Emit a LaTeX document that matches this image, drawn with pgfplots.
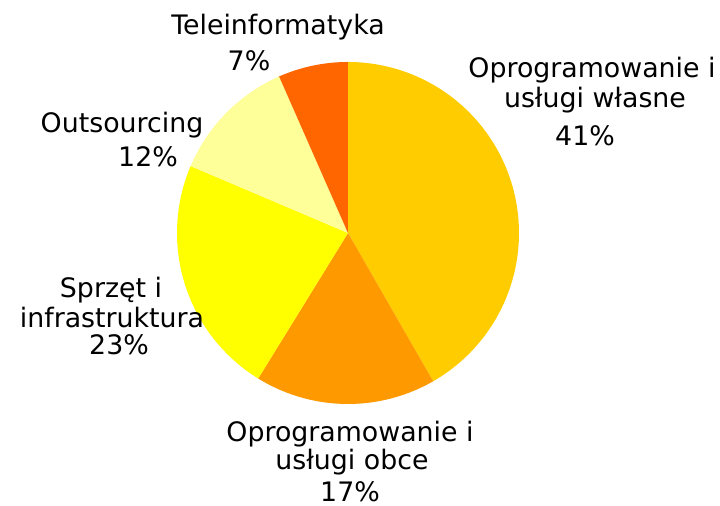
\documentclass[border=0pt]{standalone}
\usepackage{fontspec}
\setmainfont{DejaVu Sans}
\usepackage{pgfplots}
\pgfplotsset{compat=1.18}
\definecolor{cOwn}{HTML}{FFCC00}
\definecolor{cExt}{HTML}{FF9900}
\definecolor{cHw}{HTML}{FFFF00}
\definecolor{cOut}{HTML}{FFFF99}
\definecolor{cTel}{HTML}{FF6600}
% slice shares (percent), clockwise from 12 o'clock
\def\pA{41.7}\def\pB{17.1}\def\pC{22.6}\def\pD{12.0}\def\pE{6.6}
\tikzset{lbl/.style={anchor=base, inner sep=0pt, font=\fontsize{13.4}{15}\selectfont, text=black}}
\begin{document}
\begin{tikzpicture}
\begin{axis}[width=360pt, height=253pt, scale only axis, hide axis, clip=false,
  xmin=0, xmax=720, ymin=0, ymax=506]
\path (axis cs:0,0) rectangle (axis cs:720,506);
\pgfmathsetmacro{\aA}{90}
\pgfmathsetmacro{\aB}{\aA-3.6*\pA}
\pgfmathsetmacro{\aC}{\aB-3.6*\pB}
\pgfmathsetmacro{\aD}{\aC-3.6*\pC}
\pgfmathsetmacro{\aE}{\aD-3.6*\pD}
\pgfmathsetmacro{\aF}{\aE-3.6*\pE}
\addplot[fill=cOwn, draw=none, domain=\aA:\aB, samples=90, variable=\t] ({348+171*cos(\t)},{273+171*sin(\t)}) -- (axis cs:348,273) -- cycle;
\addplot[fill=cExt, draw=none, domain=\aB:\aC, samples=60, variable=\t] ({348+171*cos(\t)},{273+171*sin(\t)}) -- (axis cs:348,273) -- cycle;
\addplot[fill=cHw, draw=none, domain=\aC:\aD, samples=60, variable=\t] ({348+171*cos(\t)},{273+171*sin(\t)}) -- (axis cs:348,273) -- cycle;
\addplot[fill=cOut, draw=none, domain=\aD:\aE, samples=40, variable=\t] ({348+171*cos(\t)},{273+171*sin(\t)}) -- (axis cs:348,273) -- cycle;
\addplot[fill=cTel, draw=none, domain=\aE:\aF, samples=30, variable=\t] ({348+171*cos(\t)},{273+171*sin(\t)}) -- (axis cs:348,273) -- cycle;
% labels (pixel grid, y from bottom)
\node[lbl] at (axis cs:592,428) {Oprogramowanie i};
\node[lbl] at (axis cs:595,398) {usługi własne};
\node[lbl] at (axis cs:585,360) {41\%};
\node[lbl] at (axis cs:350,64) {Oprogramowanie i};
\node[lbl] at (axis cs:352,36) {usługi obce};
\node[lbl] at (axis cs:350,4) {17\%};
\node[lbl] at (axis cs:111,208) {Sprzęt i};
\node[lbl] at (axis cs:112,178) {infrastruktura};
\node[lbl] at (axis cs:119,151) {23\%};
\node[lbl] at (axis cs:122,373) {Outsourcing};
\node[lbl] at (axis cs:148,339) {12\%};
\node[lbl] at (axis cs:278,471) {Teleinformatyka};
\node[lbl] at (axis cs:249,435) {7\%};
\end{axis}
\end{tikzpicture}
\end{document}
